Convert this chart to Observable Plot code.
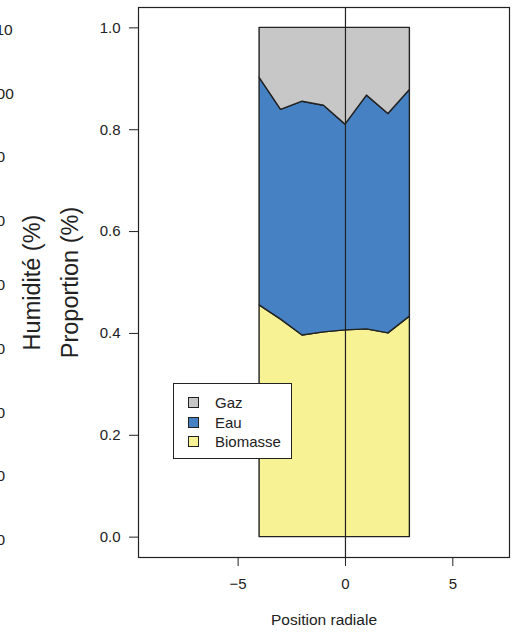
<!DOCTYPE html>
<html>
<head>
<meta charset="utf-8">
<script src="https://cdn.jsdelivr.net/npm/d3@7"></script>
<script src="https://cdn.jsdelivr.net/npm/@observablehq/plot@0.6"></script>
<style>
  html, body { margin: 0; padding: 0; background: #fff; }
  #wrap { position: relative; width: 521px; height: 637px; overflow: hidden; font-family: "Liberation Sans", Arial, Helvetica, sans-serif; }
  #legend { position: absolute; left: 173px; top: 383px; width: 117px; height: 74px; border: 1px solid #222; background: #fff; font-size: 15px; color: #222; }
  #legend .item { position: absolute; left: 14px; height: 16px; line-height: 16px; }
  #legend .sw { position: absolute; left: 0; top: 2px; width: 11px; height: 11px; border: 1px solid #222; box-sizing: border-box; }
  #legend .lab { position: absolute; left: 27px; top: 0; white-space: nowrap; }
</style>
</head>
<body>
<div id="wrap"></div>
<script>
// ---- data ----
const positions = [-4, -3, -2, -1, 0, 1, 2, 3];
const biomasse = [0.455, 0.427, 0.396, 0.402, 0.406, 0.408, 0.400, 0.433];
const eau      = [0.447, 0.412, 0.459, 0.445, 0.404, 0.459, 0.431, 0.445];
const gaz      = [0.098, 0.161, 0.145, 0.153, 0.190, 0.133, 0.169, 0.122];
const components = ["Biomasse", "Eau", "Gaz"];
const colors = ["#F7F293", "#4682C3", "#C7C7C7"];
const yTicks = [0, 0.2, 0.4, 0.6, 0.8, 1.0];
const xTicks = [-5, 0, 5];
const humiditeTicks = [110, 100, 90, 80, 70, 60, 50, 40, 30];
const legendOrder = ["Gaz", "Eau", "Biomasse"];

const series = { Biomasse: biomasse, Eau: eau, Gaz: gaz };
const rows = [];
components.forEach(c => positions.forEach((p, i) => rows.push({ pos: p, comp: c, value: series[c][i] })));

const font = '"Liberation Sans", Arial, Helvetica, sans-serif';

const chart = Plot.plot({
  width: 521,
  height: 637,
  marginLeft: 138,
  marginRight: 12,
  marginTop: 7,
  marginBottom: 80,
  style: { fontFamily: font, color: "#222", background: "#fff", overflow: "visible" },
  x: { domain: [-9.64, 7.64] },
  y: { domain: [-0.04, 1.04] },
  color: { domain: components, range: colors },
  marks: [
    Plot.areaY(rows, {
      x: "pos", y: "value", z: "comp", fill: "comp",
      order: components,
      stroke: "#222", strokeWidth: 1.4, strokeLinejoin: "round",
      curve: "linear"
    }),
    Plot.ruleX([0], { stroke: "#222", strokeWidth: 1.2 }),
    Plot.frame({ stroke: "#222", strokeWidth: 1.2 }),
    Plot.axisY({
      ticks: yTicks, tickFormat: d => d.toFixed(1), tickSize: 9, tickPadding: 9,
      fontSize: 15, label: null, stroke: "#222"
    }),
    Plot.axisX({
      ticks: xTicks, tickSize: 9, tickPadding: 12,
      fontSize: 15, label: null, stroke: "#222"
    }),
    Plot.text(["Proportion (%)"], {
      frameAnchor: "left", dx: -68, rotate: -90, textAnchor: "middle", fontSize: 23.5, fill: "#222"
    }),
    Plot.text(["Humidité (%)"], {
      frameAnchor: "left", dx: -106, rotate: -90, textAnchor: "middle", fontSize: 23.5, fill: "#222"
    }),
    Plot.text(humiditeTicks, {
      y: d => (d - 30) / 80 * 1.002 - 0.006, frameAnchor: "left", dx: -150.5, textAnchor: "start",
      text: d => String(d), fontSize: 15.5, fill: "#222"
    }),
    Plot.text(["Position radiale"], {
      frameAnchor: "bottom", dy: 67, fontSize: 15.5, fill: "#222"
    })
  ]
});

const wrap = document.getElementById("wrap");
wrap.appendChild(chart);

// legend
const legend = document.createElement("div");
legend.id = "legend";
const colorOf = Object.fromEntries(components.map((c, i) => [c, colors[i]]));
legendOrder.forEach((name, i) => {
  const item = document.createElement("div");
  item.className = "item";
  item.style.top = (11 + i * 19.5) + "px";
  const sw = document.createElement("div");
  sw.className = "sw";
  sw.style.background = colorOf[name];
  const lab = document.createElement("div");
  lab.className = "lab";
  lab.textContent = name;
  item.appendChild(sw);
  item.appendChild(lab);
  legend.appendChild(item);
});
wrap.appendChild(legend);
</script>
</body>
</html>
